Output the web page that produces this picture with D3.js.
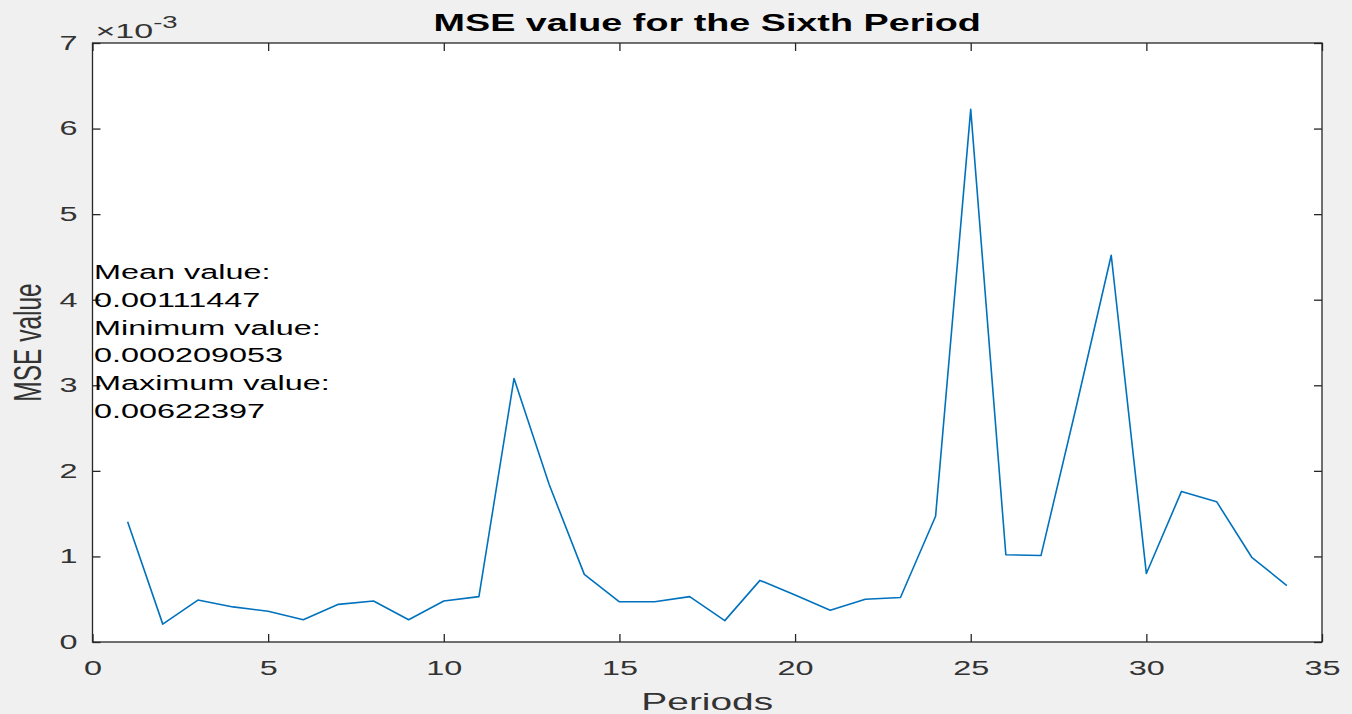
<!DOCTYPE html>
<html>
<head>
<meta charset="utf-8">
<script src="https://cdn.jsdelivr.net/npm/d3@7"></script>
<style>
  body { margin: 0; background: #f0f0f0; }
  svg { display: block; font-family: "Liberation Sans", Arial, sans-serif; }
</style>
</head>
<body>
<div id="chart"></div>
<script>
// data (MSE x 1e-3)
const periods = d3.range(1, 35);
const mseValues = [1.406, 0.209, 0.49, 0.41, 0.36, 0.26, 0.44, 0.48, 0.26, 0.48,
  0.53, 3.08, 1.84, 0.79, 0.47, 0.47, 0.53, 0.25, 0.72, 0.55,
  0.37, 0.50, 0.52, 1.47, 6.224, 1.02, 1.01, 2.74, 4.52, 0.80,
  1.76, 1.64, 0.99, 0.66];
const xTicks = [0, 5, 10, 15, 20, 25, 30, 35];
const yTicks = [0, 1, 2, 3, 4, 5, 6, 7];
const statLines = ["Mean value:", "0.00111447", "Minimum value:", "0.000209053", "Maximum value:", "0.00622397"];

const W = 1352, H = 714;
const margin = { top: 43, right: 30, bottom: 72, left: 92.5 },
      width = W - margin.left - margin.right,
      height = H - margin.top - margin.bottom;

// the figure is stretched sideways, so text is too
const sx = 1.62;

const svg = d3.select("#chart")
  .append("svg")
  .attr("width", W)
  .attr("height", H);

svg.append("rect").attr("width", W).attr("height", H).attr("fill", "#f0f0f0");

const g = svg.append("g")
  .attr("transform", `translate(${margin.left},${margin.top})`);

const x = d3.scaleLinear().domain([0, 35]).range([0, width]);
const y = d3.scaleLinear().domain([0, 7]).range([height, 0]);

g.append("rect")
  .attr("width", width)
  .attr("height", height)
  .attr("fill", "#fff");

const axisColor = "#262626";
const tickLen = 8;

// bottom axis, ticks inward
g.append("g")
  .attr("class", "xaxis")
  .attr("transform", `translate(0,${height})`)
  .call(d3.axisBottom(x).tickValues(xTicks).tickSizeInner(-tickLen).tickSizeOuter(0).tickPadding(19).tickFormat(d3.format("d")));
// top ticks
g.append("g")
  .call(d3.axisTop(x).tickValues(xTicks).tickSizeInner(-tickLen).tickSizeOuter(0).tickFormat(""));

g.append("g")
  .attr("class", "yaxis")
  .call(d3.axisLeft(y).tickValues(yTicks).tickSizeInner(-tickLen).tickSizeOuter(0).tickFormat(d3.format("d")));
g.append("g")
  .attr("transform", `translate(${width},0)`)
  .call(d3.axisRight(y).tickValues(yTicks).tickSizeInner(-tickLen).tickSizeOuter(0).tickFormat(""));

g.selectAll(".domain").remove();
g.selectAll(".tick line").attr("stroke", axisColor).attr("stroke-width", 1.3);
g.selectAll(".tick text")
  .attr("fill", "#333")
  .style("font-size", "20px")
  .style("font-family", "'Liberation Sans', Arial, sans-serif");
g.selectAll(".xaxis .tick text").attr("transform", `scale(${sx},1)`);
g.selectAll(".yaxis .tick text")
  .attr("x", -15 / sx)
  .attr("transform", `scale(${sx},1)`);

// box
g.append("rect")
  .attr("width", width)
  .attr("height", height)
  .attr("fill", "none")
  .attr("stroke", axisColor)
  .attr("stroke-width", 1.3);

// line
const line = d3.line()
  .x((d, i) => x(periods[i]))
  .y(d => y(d));

g.append("path")
  .datum(mseValues)
  .attr("fill", "none")
  .attr("stroke", "#0072bd")
  .attr("stroke-width", 1.6)
  .attr("stroke-linejoin", "round")
  .attr("d", line);

// exponent label
const expo = svg.append("text")
  .attr("transform", `translate(${margin.left + 3},38) scale(${sx},1)`)
  .attr("fill", "#333")
  .style("font-size", "21px");
expo.append("tspan").text("\u00d710");
expo.append("tspan").attr("dy", -10).style("font-size", "17px").text("-3");

// title
svg.append("text")
  .attr("transform", `translate(${margin.left + width / 2},31) scale(${sx},1)`)
  .attr("text-anchor", "middle")
  .attr("fill", "#000")
  .style("font-size", "23.3px")
  .style("font-weight", "bold")
  .text("MSE value for the Sixth Period");

// axis labels
svg.append("text")
  .attr("transform", `translate(${margin.left + width / 2},710) scale(${sx},1)`)
  .attr("text-anchor", "middle")
  .attr("fill", "#333")
  .style("font-size", "24px")
  .text("Periods");

svg.append("text")
  .attr("transform", `translate(41,${margin.top + height / 2}) rotate(-90) scale(1,${sx})`)
  .attr("text-anchor", "middle")
  .attr("fill", "#333")
  .style("font-size", "24.5px")
  .text("MSE value");

// stats annotation
svg.append("g")
  .selectAll("text")
  .data(statLines)
  .join("text")
  .attr("transform", (d, i) => `translate(94,${279 + i * 27.8}) scale(${sx},1)`)
  .attr("fill", "#000")
  .style("font-size", "20px")
  .text(d => d);
</script>
</body>
</html>
